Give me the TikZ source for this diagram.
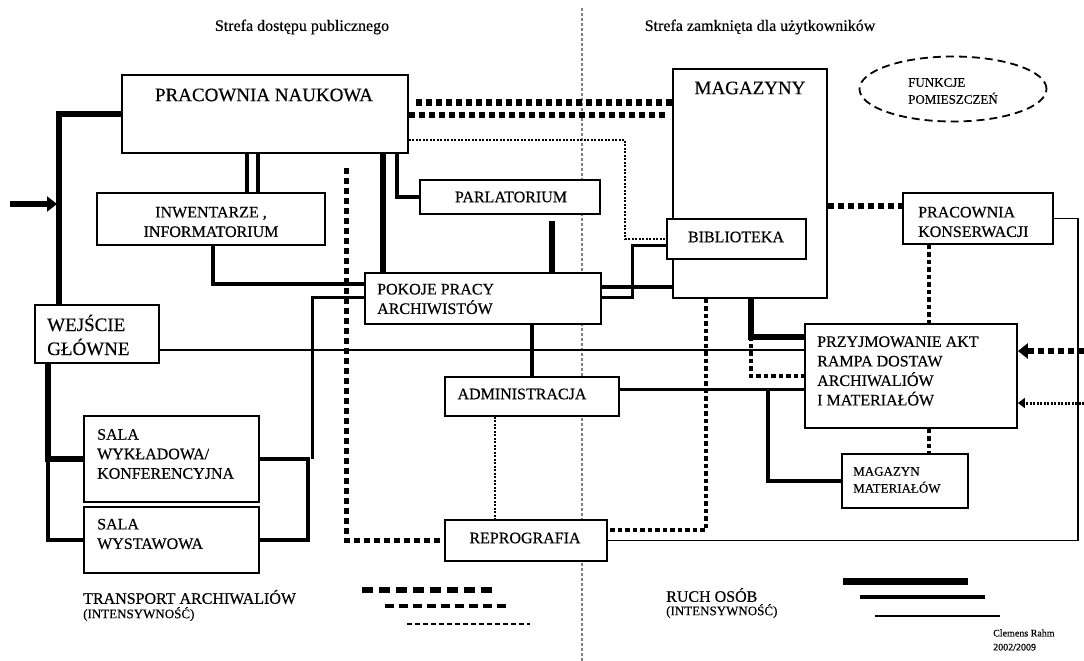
\documentclass[tikz,border=0pt]{standalone}
\usepackage{fontspec}
\setmainfont[FakeBold=0.4]{Liberation Serif}
\usetikzlibrary{arrows.meta,shapes.geometric}

\begin{document}
\begin{tikzpicture}[x=1pt,y=-1pt,
    box/.style={draw, line width=1.8pt, fill=white, inner sep=0pt},
    lbl/.style={align=left, inner sep=0pt, font=\fontsize{16}{19.5}\selectfont},
    lblbig/.style={lbl, font=\fontsize{19}{24}\selectfont},
    lblsmall/.style={lbl, font=\fontsize{13}{17}\selectfont},
    walkA/.style={line width=6pt},
    walkB/.style={line width=4.5pt},
    walkC/.style={line width=3pt},
    walkD/.style={line width=1.8pt},
    cargoA/.style={line width=6pt, dash pattern=on 6pt off 4pt},
    cargoB/.style={line width=4.5pt, dash pattern=on 4.5pt off 3pt},
    cargoC/.style={line width=2pt, dash pattern=on 2pt off 1.5pt},
    tip/.style={-{Triangle[length=10pt,width=15pt]}}]
  \useasboundingbox (0,0) rectangle (1084,661);

  % zones
  \draw[gray, line width=1.2pt, dash pattern=on 3pt off 2pt] (582,8) -- (582,661);
  \node[lbl] (zonePub) at (302,27) {Strefa dostępu publicznego};
  \node[lbl] (zoneClo) at (760,27) {Strefa zamknięta dla użytkowników};

  % rooms
  \node[box, minimum width=286, minimum height=78] (prac) at (265,114) {};
  \node[box, minimum width=228, minimum height=52] (inw) at (211,219) {};
  \node[box, minimum width=124, minimum height=58] (wej) at (97,334) {};
  \node[box, minimum width=175, minimum height=86] (sala1) at (171.5,459) {};
  \node[box, minimum width=175, minimum height=66] (sala2) at (171.5,540) {};
  \node[box, minimum width=180, minimum height=34] (parl) at (510,197) {};
  \node[box, minimum width=236, minimum height=51] (pok) at (483,298.5) {};
  \node[box, minimum width=174, minimum height=39] (adm) at (532,396.5) {};
  \node[box, minimum width=162, minimum height=41] (repr) at (526,540.5) {};
  \node[box, minimum width=154, minimum height=229] (mag) at (750,183.5) {};
  \node[box, minimum width=139, minimum height=40] (bib) at (736.5,239) {};
  \node[box, minimum width=150, minimum height=51] (kons) at (978,218.5) {};
  \node[box, minimum width=212, minimum height=104] (przy) at (911,376) {};
  \node[box, minimum width=126, minimum height=54] (mm) at (905,481) {};
  \node[draw, ellipse, line width=1.8pt, dash pattern=on 8pt off 5pt,
        minimum width=187, minimum height=65, inner sep=0pt] (funk) at (953,89) {};

  % room names
  \node[lblbig] (pracT) at (264,95) {PRACOWNIA NAUKOWA};
  \node[lbl, align=center] (inwT) at (211,222) {INWENTARZE ,\\INFORMATORIUM};
  \node[lblbig, anchor=west] (wejT) at (47,335) {WEJŚCIE\\GŁÓWNE};
  \node[lbl, anchor=west] (sala1T) at (97,454) {SALA\\WYKŁADOWA/\\KONFERENCYJNA};
  \node[lbl, anchor=west] (sala2T) at (97,534) {SALA\\WYSTAWOWA};
  \node[lbl] (parlT) at (511,197) {PARLATORIUM};
  \node[lbl, anchor=west] (pokT) at (377,299) {POKOJE PRACY\\ARCHIWISTÓW};
  \node[lbl] (admT) at (522,394) {ADMINISTRACJA};
  \node[lbl] (reprT) at (525,538) {REPROGRAFIA};
  \node[lblbig] (magT) at (750,88) {MAGAZYNY};
  \node[lbl] (bibT) at (736,237) {BIBLIOTEKA};
  \node[lbl, anchor=west] (konsT) at (918,222) {PRACOWNIA\\KONSERWACJI};
  \node[lbl, anchor=west] (przyT) at (817,371) {PRZYJMOWANIE AKT\\RAMPA DOSTAW\\ARCHIWALIÓW\\I MATERIAŁÓW};
  \node[lblsmall, anchor=west] (mmT) at (853,480) {MAGAZYN\\MATERIAŁÓW};
  \node[lblsmall, anchor=west] (funkT) at (908,91) {FUNKCJE\\POMIESZCZEŃ};

  % transport of records
  \draw[cargoA, line width=7pt, shorten <=7pt] (prac.east |- 0,102) -- (mag.west |- 0,102);
  \draw[cargoA, shorten >=5pt] (prac.east |- 0,115) -- (mag.west |- 0,115);
  \draw[cargoC] (prac.east |- 0,140) -| (bib.west -| 625,0) -- (bib.west);
  \coordinate (drop) at (346,168);
  \draw[cargoA, line width=5pt] (drop) |- (repr.west);
  \draw[cargoA] (mag.east |- 0,206) -- (kons.west |- 0,206);
  \draw[cargoB] (kons.south -| 929,0) -- (przy.north -| 929,0);
  \draw[cargoB, line width=4pt] (przy.south -| 929,0) -- (mm.north -| 929,0);
  \draw[cargoB] (mag.south -| 706,0) |- (repr.east |- 0,530);
  \draw[cargoB] (mag.south -| 751,0) |- (przy.west);
  \draw[cargoC] (adm.south -| 495,0) -- (repr.north -| 495,0);
  \coordinate (supA) at (1084,351);
  \coordinate (supB) at (1084,403);
  \draw[cargoA, tip] (supA) -- (przy.east |- supA);
  \draw[cargoC, line width=3pt, -{Triangle[length=7pt,width=10pt]}] (supB) -- (przy.east |- supB);

  % movement of people
  \coordinate (entry) at (10,204);
  \draw[walkA] (prac.west) -| (wej.north -| 59,0);
  \draw[walkA, tip] (entry) -- (entry -| 57,0);
  \draw[walkA] (wej.south -| 48,0) |- (sala1.west);
  \draw[walkB] (wej.south -| 48,0) |- (sala2.west);
  \draw[walkB] (sala1.east) -| (sala2.east -| 308,0) -- (sala2.east);
  \draw[walkC] (pok.west |- 0,297) -| (sala1.east -| 312,0);
  \foreach \x in {247,258}
    \draw[walkB] (prac.south -| \x,0) -- (inw.north -| \x,0);
  \draw[walkB] (inw.south -| 213,0) |- (pok.west |- 0,284);
  \draw[walkA] (prac.south -| 383,0) -- (pok.north -| 383,0);
  \draw[walkB] (prac.south -| 397,0) |- (parl.west);
  \draw[walkA, shorten <=6pt] (parl.south -| 552,0) -- (pok.north -| 552,0);
  \draw[walkD] (wej.east |- 0,350) -- (przy.west |- 0,350);
  \draw[walkB] (pok.east |- 0,287) -- (mag.west |- 0,287);
  \coordinate (bibIn) at ([yshift=-6pt]bib.west);
  \draw[walkC] (pok.east |- 0,297) -| (bibIn -| 632,0) -- (bibIn);
  \draw[walkB] (pok.south -| adm.north) -- (adm.north);
  \draw[walkC] (adm.east |- 0,389) -- (przy.west |- 0,389);
  \coordinate (split) at (768,389);
  \draw[walkB] (split) |- (mm.west);
  \draw[walkA] (mag.south -| 751,0) |- (przy.west |- 0,337);
  \draw[walkD] (repr.east) -| (kons.east -| 1078,0) -- (kons.east);

  % legend
  \node[lbl, anchor=west] (legCargo) at (83,597) {TRANSPORT ARCHIWALIÓW};
  \node[lblsmall, anchor=west] (legCargoI) at (83,614) {(INTENSYWNOŚĆ)};
  \draw[line width=6pt, dash pattern=on 11pt off 6pt] (362,590) -- (495,590);
  \draw[line width=3.5pt, dash pattern=on 9pt off 5pt] (385,606) -- (510,606);
  \draw[line width=1.3pt, dash pattern=on 5pt off 3pt] (407,624) -- (530,624);
  \node[lbl, anchor=west] (legWalk) at (666,595) {RUCH OSÓB};
  \node[lblsmall, anchor=west] (legWalkI) at (666,611) {(INTENSYWNOŚĆ)};
  \draw[line width=7pt] (843,581) -- (968,581);
  \draw[line width=4pt] (860,597) -- (985,597);
  \draw[line width=2pt] (875,616) -- (1000,616);
  \node[lbl, anchor=west, font=\fontsize{10}{14}\selectfont] (author) at (993,640) {Clemens Rahm\\2002/2009};
\end{tikzpicture}
\end{document}
